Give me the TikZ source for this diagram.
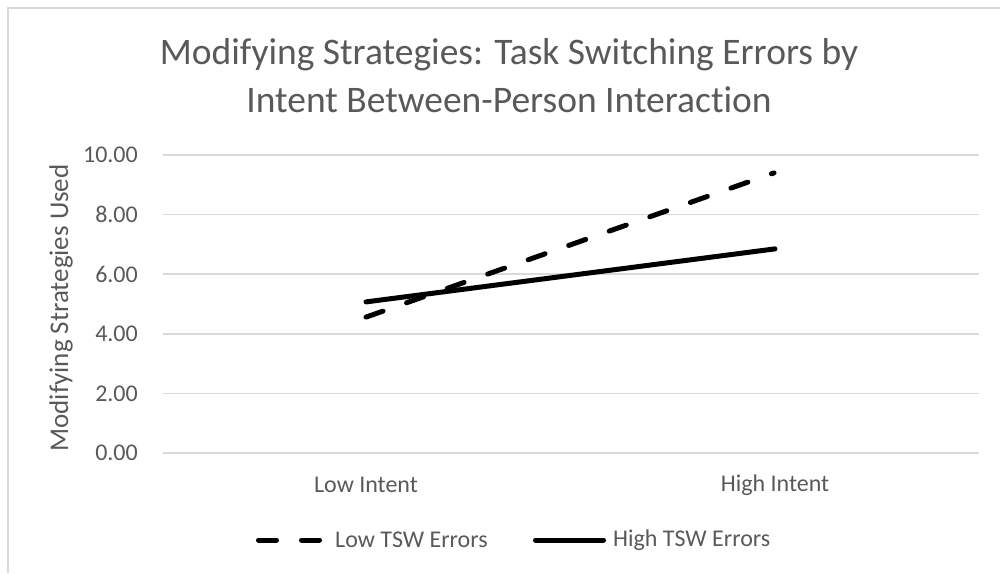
\documentclass[tikz,border=0pt]{standalone}
\usepackage{fontspec}
\setmainfont{Carlito}[Ligatures=NoCommon]
\definecolor{txtgrey}{HTML}{595959}
\definecolor{gridgrey}{HTML}{D9D9D9}
\begin{document}
\begin{tikzpicture}[x=1pt,y=1pt,font=\fontsize{24}{28}\selectfont,text=txtgrey,
		grid/.style={gridgrey,line width=1.5pt},
		series/.style={black,line width=5pt,line cap=round},
		dashser/.style={series,dash pattern=on 18pt off 25pt}]
			\useasboundingbox (0,0) rectangle (1000,573);
			\draw[gridgrey,line width=2pt](8,0)--(8,565)--(1000,565);
			\node[font=\fontsize{37.5}{48}\selectfont,align=center] (title) at (509,497) {Modifying Strategies: Task Switching Errors by\\Intent Between-Person Interaction};
			\foreach \v in {0,2,...,10}{
				\draw[grid](163,{120+29.8*\v})--(979,{120+29.8*\v});
				\node[anchor=east,inner sep=0] (tick\v) at (138,{120+29.8*\v}) {\v.00};
			}
			\node[rotate=90,font=\fontsize{27}{32}\selectfont] (ytitle) at (61,265) {Modifying Strategies Used};
			\node (lowint) at (366,88) {Low Intent};
			\node (highint) at (775,88) {High Intent};
			% data points
			\coordinate (dlow) at (366,{120+29.8*4.56});
			\coordinate (dhigh) at (774,{120+29.8*9.40});
			\coordinate (slow) at (366,{120+29.8*5.07});
			\coordinate (shigh) at (775,{120+29.8*6.85});
			\draw[dashser](dlow)--(dhigh);
			\draw[series](slow)--(shigh);
			% legend
			\node[anchor=west,inner sep=0] (lowtsw) at (335,33) {Low TSW Errors};
			\node[anchor=west,inner sep=0] (hightsw) at (613,33) {High TSW Errors};
			\coordinate (ld1) at (258.5,33);
			\coordinate (ld2) at (319.5,33);
			\coordinate (ls1) at (535.5,33);
			\coordinate (ls2) at (603.5,33);
			\draw[dashser](ld1)--(ld2);
			\draw[series](ls1)--(ls2);
		\end{tikzpicture}
\end{document}
